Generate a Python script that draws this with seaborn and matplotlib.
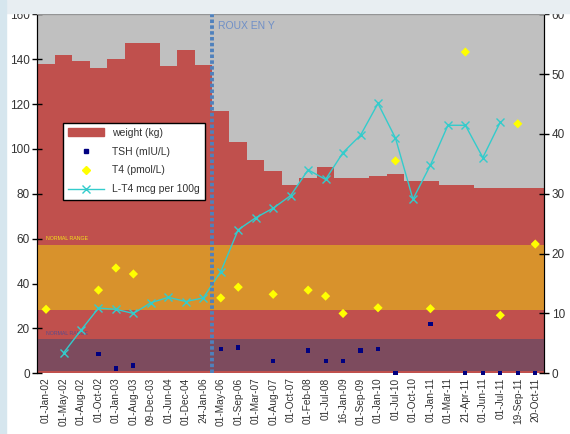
import numpy as np
import pandas as pd
import matplotlib
matplotlib.use("Agg")
import matplotlib.pyplot as plt
import seaborn as sns
from matplotlib.patches import Patch, Rectangle
from matplotlib.lines import Line2D

# data
dates = ["01-Jan-02", "01-May-02", "01-Aug-02", "01-Oct-02", "01-Jan-03", "01-Aug-03",
         "09-Dec-03", "01-Jun-04", "01-Dec-04", "24-Jan-06", "01-May-06", "01-Sep-06",
         "01-Mar-07", "01-Aug-07", "01-Oct-07", "01-Feb-08", "01-Jul-08", "16-Jan-09",
         "01-Sep-09", "01-Jan-10", "01-Jul-10", "01-Oct-10", "01-Jan-11", "01-Mar-11",
         "21-Apr-11", "01-Jun-11", "01-Jul-11", "19-Sep-11", "20-Oct-11"]
weight = [138, 142, 139, 136, 140, 147, 147, 137, 144, 137.5, 117, 103, 95, 90, 84,
          87, 92, 87, 87, 88, 89, 85.5, 85.5, 84, 84, 82.5, 82.5, 82.5, 82.5]
tsh = [np.nan, np.nan, np.nan, 3.2, 0.8, 1.3, np.nan, np.nan, np.nan, np.nan, 4.0, 4.3,
       np.nan, 2.05, np.nan, 3.8, 2.05, 2.05, 3.8, 4.0, 0, np.nan, 8.2, np.nan,
       0, 0, 0, 0, 0]
t4 = [10.7, np.nan, np.nan, 13.9, 17.6, 16.6, np.nan, np.nan, np.nan, np.nan, 12.6, 14.4,
      np.nan, 13.2, np.nan, 13.9, 12.9, 10.0, np.nan, 10.95, 35.5, np.nan, 10.8, np.nan,
      53.7, np.nan, 9.7, 41.7, 21.6]
lt4 = [np.nan, 3.4, 7.2, 10.9, 10.7, 10.0, 11.8, 12.7, 12.0, 12.6, 17.0, 24.0, 26.0,
       27.6, 29.7, 34.0, 32.4, 36.9, 39.8, 45.1, 39.3, 29.1, 34.8, 41.45, 41.45,
       36.05, 42.0, np.nan, np.nan]
t4_range = (10.5, 21.5)
tsh_range = (0.4, 5.7)

df = pd.DataFrame({"date": dates, "weight": weight, "tsh": tsh, "t4": t4, "lt4": lt4})
df["pos"] = np.arange(len(df))

plt.rcParams["font.family"] = ["Liberation Sans", "DejaVu Sans"]

fig = plt.figure(figsize=(5.7, 4.34), dpi=100)
fig.patches.append(Rectangle((0, 1 - 13 / 434), 1, 13 / 434, transform=fig.transFigure,
                             color="#E8EEF2", zorder=0))
fig.patches.append(Rectangle((0, 0), 6 / 570, 1, transform=fig.transFigure,
                             color="#D6E6EE", zorder=0))
ax = fig.add_axes([37.3 / 570, 1 - 373.3 / 434, (544 - 37.3) / 570, (373.3 - 14.3) / 434])
ax.set_facecolor("#C0C0C0")

# weight bars on the left axis
sns.barplot(data=df, x="date", y="weight", order=dates, color="#C0504D", saturation=1,
            width=1, ax=ax, zorder=1)
ax.set_ylim(0, 160)
ax.set_yticks(range(0, 161, 20))
ax.set_xlabel("")
ax.set_ylabel("")

# right axis for the lab values
ax2 = ax.twinx()
ax2.set_ylim(0, 60)
ax2.set_yticks(range(0, 61, 10))

# normal ranges (drawn on the right scale)
ax2.axhspan(*t4_range, color="#D8922C", zorder=0.5, lw=0)
ax2.axhspan(*tsh_range, color="#7D4B5E", zorder=0.5, lw=0)
ax2.text(0.02, 60.1 * 60 / 160, "NORMAL RANGE", color="#F2E21A", fontsize=3.8,
         va="center", ha="left", zorder=3)
ax2.text(0.02, 17.9 * 60 / 160, "NORMAL RANGE", color="#5B4C8C", fontsize=3.8,
         va="center", ha="left", zorder=3)

sns.lineplot(data=df, x="pos", y="lt4", color="#33CCCC", lw=1, marker="x", ms=6,
             mew=1, mec="#33CCCC", ax=ax2, zorder=4)
sns.scatterplot(data=df, x="pos", y="tsh", marker="s", color="#000080", s=9,
                edgecolor="none", ax=ax2, zorder=5, clip_on=False)
sns.scatterplot(data=df, x="pos", y="t4", marker="D", color="#FFFF00", s=22,
                edgecolor="none", ax=ax2, zorder=5)
ax2.set_xlabel("")
ax2.set_ylabel("")

# surgery marker
ax2.axvline(9.5, color="#4F81BD", lw=2.8, ls=(0, (0.9, 0.6)), zorder=6)
ax2.text(9.84, 0.967, "ROUX EN Y", transform=ax2.get_xaxis_transform(), color="#6F8FC7",
         fontsize=7.5, va="center", ha="left", zorder=6)

ax.set_xlim(-0.5, len(dates) - 0.5)
ax2.set_xlim(-0.5, len(dates) - 0.5)
ax.set_xticks(range(len(dates)))
ax.set_xticklabels(dates, rotation=90, fontsize=7.3, color="#333333")
ax.tick_params(axis="x", length=0, pad=3)
ax.tick_params(axis="y", direction="inout", length=7, width=1, labelsize=8.5,
               labelcolor="#333333", pad=2)
ax2.tick_params(axis="y", direction="inout", length=7, width=1, labelsize=8.5,
                labelcolor="#333333", pad=2)

for a in (ax, ax2):
    a.spines["top"].set_color("#808080")
    a.spines["bottom"].set_visible(False)
    a.spines["left"].set_color("black")
    a.spines["right"].set_color("black")
    a.grid(False)

handles = [
    Patch(color="#C0504D", label="weight (kg)"),
    Line2D([], [], ls="none", marker="s", color="#000080", ms=3, label="TSH (mIU/L)"),
    Line2D([], [], ls="none", marker="D", color="#FFFF00", ms=4.5, label="T4 (pmol/L)"),
    Line2D([], [], color="#33CCCC", lw=1, marker="x", ms=6, label="L-T4 mcg per 100g"),
]
leg = ax2.legend(handles=handles, loc="upper left", bbox_to_anchor=(0.041, 0.713),
                 fontsize=7.5, frameon=True, fancybox=False, edgecolor="black",
                 framealpha=1, handlelength=3.4, borderpad=0.5, labelspacing=0.85)
leg.get_frame().set_linewidth(1)
leg.set_zorder(10)
for t in leg.get_texts():
    t.set_color("#333333")

fig.savefig("out.png", dpi=100)
